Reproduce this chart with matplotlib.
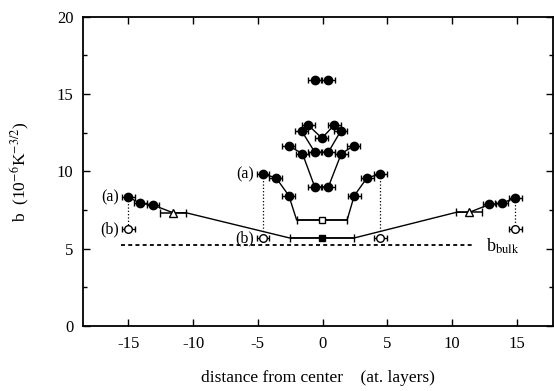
import numpy as np
import matplotlib.pyplot as plt

plt.rcParams['font.family'] = ['Liberation Serif', 'DejaVu Serif']
plt.rcParams['mathtext.fontset'] = 'stix'

# cluster profiles (filled circles), x in layers, b in 1e-6 K^-3/2
c16_x = [-0.6, 0.45]
c16_y = [15.92, 15.92]
c13_x = [-1.1, -0.05, 0.9]
c13_y = [13.0, 12.15, 13.0]
c12_x = [-1.6, -0.6, 0.45, 1.4]
c12_y = [12.6, 11.25, 11.25, 12.6]
c11_x = [-2.6, -1.55, -0.6, 0.45, 1.45, 2.4]
c11_y = [11.65, 11.15, 9.0, 9.0, 11.15, 11.65]
c9_x = [-4.6, -3.6, -2.6, 2.45, 3.45, 4.45]
c9_y = [9.82, 9.6, 8.43, 8.43, 9.6, 9.82]
c8_x = [-15.0, -14.1, -13.1, 12.9, 13.85, 14.9]
c8_y = [8.35, 7.94, 7.83, 7.87, 7.94, 8.3]

# wide averages
osq_x, osq_y, osq_err = -0.05, 6.86, 1.95
fsq_x, fsq_y, fsq_err = -0.05, 5.7, 2.5
tri_x = [-11.55, 11.35]
tri_y = [7.33, 7.36]
tri_err = 1.0

# (b) values, open circles
b_x = [-15.0, -4.6, 4.45, 14.9]
b_y = [6.26, 5.68, 5.68, 6.26]

b_bulk = 5.22
bulk_x = [-15.6, 11.7]

pt_err = 0.5

fig = plt.figure(figsize=(5.54, 3.91), dpi=100)
ax = fig.add_axes([0.15, 0.166, 0.848, 0.791])

eb = dict(fmt='o', color='black', ms=6, capsize=2.5, elinewidth=1.0, capthick=1.0, zorder=3)

# connecting lines
ax.plot(c13_x, c13_y, 'k-', lw=1.0)
ax.plot(c12_x, c12_y, 'k-', lw=1.0)
ax.plot(c11_x, c11_y, 'k-', lw=1.0)
line9_x = c9_x[:3] + [osq_x - osq_err, osq_x + osq_err] + c9_x[3:]
line9_y = c9_y[:3] + [osq_y, osq_y] + c9_y[3:]
ax.plot(line9_x, line9_y, 'k-', lw=1.0)
line8_x = (c8_x[:3] + [tri_x[0], tri_x[0] + tri_err, fsq_x - fsq_err,
                       fsq_x + fsq_err, tri_x[1] - tri_err, tri_x[1]] + c8_x[3:])
line8_y = (c8_y[:3] + [tri_y[0], tri_y[0], fsq_y, fsq_y, tri_y[1], tri_y[1]] + c8_y[3:])
ax.plot(line8_x, line8_y, 'k-', lw=1.0)

# points with error bars
for xs, ys in [(c16_x, c16_y), (c13_x, c13_y), (c12_x, c12_y),
               (c11_x, c11_y), (c9_x, c9_y), (c8_x, c8_y)]:
    ax.errorbar(xs, ys, xerr=pt_err, **eb)

ax.errorbar(b_x, b_y, xerr=pt_err, fmt='o', mfc='white', mec='black', color='black',
            ms=5.5, capsize=2.5, elinewidth=1.0, capthick=1.0, zorder=3)
ax.errorbar(tri_x, tri_y, xerr=tri_err, fmt='^', mfc='white', mec='black', color='black',
            ms=5.5, capsize=3, elinewidth=1.1, capthick=1.0, zorder=3)
ax.errorbar([osq_x], [osq_y], xerr=osq_err, fmt='s', mfc='white', mec='black', color='black',
            ms=5, capsize=3, elinewidth=1.1, capthick=1.0, zorder=3)
ax.errorbar([fsq_x], [fsq_y], xerr=fsq_err, fmt='s', color='black',
            ms=5, capsize=3, elinewidth=1.1, capthick=1.0, zorder=3)

# dotted links between (a) and (b)
for i, j in [(0, 0), (1, 0), (2, 5), (3, 5)]:
    src_y = c8_y if i in (0, 3) else c9_y
    ax.plot([b_x[i], b_x[i]], [src_y[j], b_y[i]], 'k:', lw=0.9)

# bulk line
ax.plot(bulk_x, [b_bulk, b_bulk], 'k--', lw=1.3, dashes=(2.2, 1.8))
ax.text(bulk_x[1] + 0.9, b_bulk - 0.05, r'b$_{\mathrm{bulk}}$', fontsize=13,
        va='center', ha='left')

# labels (a)/(b)
ax.text(c8_x[0] - 0.7, c8_y[0], '(a)', fontsize=11.5, ha='right', va='center')
ax.text(b_x[0] - 0.7, b_y[0], '(b)', fontsize=11.5, ha='right', va='center')
ax.text(c9_x[0] - 0.7, c9_y[0], '(a)', fontsize=11.5, ha='right', va='center')
ax.text(b_x[1] - 0.7, b_y[1], '(b)', fontsize=11.5, ha='right', va='center')

ax.set_xlim(-18.5, 17.8)
ax.set_ylim(0, 20)
ax.set_xticks([-15, -10, -5, 0, 5, 10, 15])
ax.set_xticklabels(['-15', '-10', '-5', '0', '5', '10', '15'])
ax.set_yticks([0, 5, 10, 15, 20])
ax.set_yticks([2.5, 7.5, 12.5, 17.5], minor=True)
ax.tick_params(direction='in', top=True, right=True, labelsize=12, length=5, width=1, pad=7)
ax.tick_params(which='minor', direction='in', right=True, length=3, width=1)
for s in ax.spines.values():
    s.set_linewidth(1.3)

ax.set_xlabel('distance from center    (at. layers)', fontsize=12.5, labelpad=13)
ax.set_ylabel(r'b  (10$^{-6}$K$^{-3/2}$)', fontsize=12.5, labelpad=18)

fig.savefig('out.png', dpi=100)
